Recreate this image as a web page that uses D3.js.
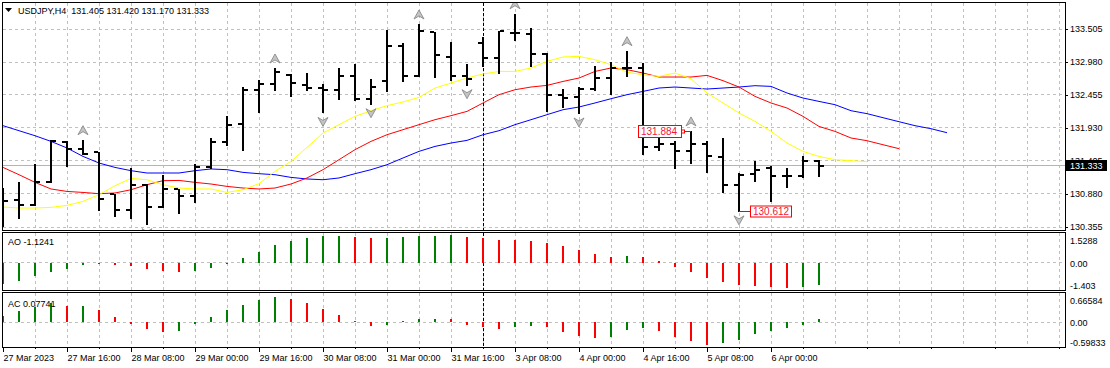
<!DOCTYPE html>
<html><head><meta charset="utf-8">
<script src="https://cdn.jsdelivr.net/npm/d3@7"></script>
<style>
html,body{margin:0;padding:0;background:#fff;}
svg{display:block;font-family:"Liberation Sans",Arial,sans-serif;}
</style></head><body>
<svg id="chart" width="1110" height="368"></svg>
<script>
// ---------------- DATA ----------------
const symbol = "USDJPY,H4";
const opens = [130.837,130.789,130.710,131.071,131.707,131.596,131.548,130.880,130.630,131.028,
  130.667,130.960,130.853,131.303,131.701,131.994,132.528,132.630,132.773,132.619,
  132.566,132.528,132.751,132.391,132.671,133.228,132.751,133.457,133.060,132.751,
  133.282,133.037,133.441,133.430,133.107,132.449,132.417,132.550,132.730,132.885,
  132.885,131.628,131.680,131.558,131.680,131.469,131.017,131.198,131.294,131.160,
  131.160,131.405];
const highs = [130.969,131.065,131.362,131.740,131.717,131.744,131.552,130.885,131.294,131.044,
  131.187,130.965,131.362,131.771,132.115,132.576,132.698,132.885,132.794,132.805,
  132.630,132.885,132.953,132.710,133.494,133.282,133.585,133.462,133.298,132.948,
  133.378,133.478,133.748,133.521,133.123,132.550,132.582,132.921,132.974,133.160,
  132.964,131.787,131.717,131.884,131.717,131.771,131.214,131.410,131.330,131.294,
  131.489,131.420];
const lows = [130.376,130.498,130.710,131.065,131.319,131.516,130.630,130.524,130.498,130.408,
  130.667,130.578,130.746,131.294,131.664,131.585,132.178,132.528,132.444,132.539,
  132.178,132.391,132.369,132.317,132.512,132.683,132.751,132.735,132.698,132.619,
  132.910,132.805,133.324,132.910,132.194,132.264,132.169,132.528,132.476,132.762,
  131.516,131.574,131.294,131.373,131.230,130.905,130.612,131.080,130.773,130.991,
  131.150,131.170];
const closes = [130.769,130.710,131.068,131.717,131.596,131.516,130.800,130.630,131.028,130.667,
  130.960,130.853,131.303,131.701,131.983,132.539,132.630,132.815,132.646,132.571,
  132.528,132.751,132.391,132.582,133.228,132.751,133.467,133.096,132.762,132.710,
  133.037,133.467,133.441,133.107,132.449,132.407,132.550,132.719,132.885,132.885,
  131.628,131.680,131.558,131.680,131.478,131.017,131.176,131.267,131.160,131.160,
  131.399,131.333];
// Alligator lines (shifted forward past the last bar)
const lips = [130.673,130.657,130.657,130.667,130.699,130.762,130.869,131.012,131.128,131.107,
  131.028,130.975,130.960,130.960,130.905,130.948,131.044,131.240,131.399,131.621,
  131.850,131.983,132.115,132.205,132.285,132.344,132.417,132.566,132.646,132.725,
  132.789,132.830,132.830,132.885,132.990,133.060,133.069,133.017,132.937,132.815,
  132.778,132.751,132.805,132.714,132.487,132.328,132.169,132.035,131.876,131.691,
  131.558,131.478,131.426,131.410,131.394];
const teeth = [131.303,131.187,131.065,130.960,130.921,130.905,130.885,130.896,130.948,131.028,
  131.092,131.096,131.065,131.039,131.001,130.975,130.960,130.975,131.039,131.135,
  131.267,131.426,131.585,131.717,131.823,131.903,131.983,132.062,132.126,132.194,
  132.328,132.460,132.539,132.582,132.608,132.671,132.725,132.830,132.885,132.858,
  132.805,132.741,132.741,132.741,132.767,132.683,132.582,132.433,132.328,132.248,
  132.115,131.955,131.876,131.771,131.728,131.664,131.601];
const jaw = [131.967,131.887,131.807,131.717,131.612,131.478,131.373,131.303,131.251,131.214,
  131.214,131.214,131.251,131.278,131.267,131.224,131.203,131.187,131.144,131.119,
  131.107,131.135,131.203,131.267,131.346,131.453,131.558,131.637,131.691,131.733,
  131.823,131.887,131.983,132.062,132.142,132.221,132.264,132.328,132.396,132.460,
  132.512,132.566,132.582,132.566,132.550,132.566,132.582,132.603,132.592,132.487,
  132.407,132.353,132.301,132.205,132.158,132.094,132.030,131.967,131.919,131.855];
const aoValues = [-1.095,-0.927,-0.674,-0.472,-0.320,-0.118,-0.067,-0.135,-0.185,-0.320,
  -0.421,-0.472,-0.421,-0.270,-0.034,0.219,0.556,0.876,1.078,1.264,
  1.340,1.350,1.281,1.230,1.240,1.281,1.331,1.340,1.382,1.281,
  1.230,1.146,1.129,1.078,0.977,0.826,0.623,0.421,0.270,0.320,
  0.270,0.067,-0.236,-0.489,-0.792,-0.994,-1.146,-1.160,-1.247,-1.297,
  -1.247,-1.1241];
const acValues = [0.147,0.263,0.356,0.441,0.375,0.380,0.286,0.124,-0.039,-0.155,
  -0.224,-0.201,-0.039,0.124,0.286,0.402,0.518,0.588,0.541,0.449,
  0.309,0.170,0.031,-0.077,-0.062,0.031,0.065,0.080,0.075,-0.062,
  -0.116,-0.155,-0.108,-0.085,-0.108,-0.224,-0.317,-0.363,-0.340,-0.178,
  -0.131,-0.201,-0.340,-0.433,-0.526,-0.480,-0.410,-0.271,-0.209,-0.131,
  -0.062,0.07741];
const priceTicks = [133.505,132.980,132.455,131.930,131.405,130.880,130.355];
const aoTicks = [1.5288,0,-1.403];
const aoTickLabels = ["1.5288","0.00","-1.403"];
const acTicks = [0.66584,0,-0.59833];
const acTickLabels = ["0.66584","0.00","-0.59833"];
const xLabels = ["27 Mar 2023","27 Mar 16:00","28 Mar 08:00","29 Mar 00:00","29 Mar 16:00",
  "30 Mar 08:00","31 Mar 00:00","31 Mar 16:00","3 Apr 08:00","4 Apr 00:00","4 Apr 16:00",
  "5 Apr 08:00","6 Apr 00:00"];
const fractalUp = [5,17,26,32,39,43];
const fractalDown = [9,20,23,29,36,46];
const weekSeparatorBar = 30;
const highMark = {bar:43, price:131.884};
const lowMark = {bar:46, price:130.612};

// ---------------- LAYOUT ----------------
const FONT = "Liberation Sans, Arial, sans-serif";
const FS = 9;
const left = 2.5, right = 1065.5;
const mainTop = 2.5, mainBot = 230.5;
const aoTop = 232.5, aoBot = 290.5;
const acTop = 292.5, acBot = 347.5;
const GREEN = "#008000", RED = "#ff0000", GRID = "#c0c0c0";

const svg = d3.select("#chart");
const x = d3.scaleLinear().domain([0, 66]).range([3, 1059]);
const yMain = d3.scaleLinear().domain([130.355, 133.505]).range([227, 29]);
const yAO = d3.scaleLinear().domain([-1.403, 1.5288]).range([290.5, 232.5]);
const yAC = d3.scaleLinear().domain([-0.59833, 0.66584]).range([348, 293.5]);
const last = closes.length - 1;

const defs = svg.append("defs");
function clip(id, y0, y1) {
  defs.append("clipPath").attr("id", id).append("rect")
    .attr("x", left + 0.5).attr("y", y0 + 0.5).attr("width", right - left - 1).attr("height", y1 - y0 - 1);
}
clip("cMain", mainTop, mainBot); clip("cAO", aoTop, aoBot); clip("cAC", acTop, acBot);

// ---------- grids ----------
const gridBars = d3.range(2, 67, 2);
function vGrid(y0, y1) {
  svg.append("g").selectAll("line").data(gridBars).join("line")
    .attr("x1", d => x(d) + 0.5).attr("x2", d => x(d) + 0.5)
    .attr("y1", y0).attr("y2", y1)
    .attr("stroke", GRID).attr("stroke-dasharray", "3,3").attr("shape-rendering", "crispEdges");
}
vGrid(mainTop, mainBot); vGrid(aoTop, aoBot); vGrid(acTop, acBot);
svg.append("g").selectAll("line").data(priceTicks).join("line")
  .attr("x1", left).attr("x2", right)
  .attr("y1", d => Math.floor(yMain(d)) + 0.5).attr("y2", d => Math.floor(yMain(d)) + 0.5)
  .attr("stroke", GRID).attr("stroke-dasharray", "3,3").attr("shape-rendering", "crispEdges");
[[yAO, aoTop], [yAC, acTop]].forEach(([s]) => {
  svg.append("line").attr("x1", left).attr("x2", right)
    .attr("y1", Math.floor(s(0)) + 0.5).attr("y2", Math.floor(s(0)) + 0.5)
    .attr("stroke", GRID).attr("stroke-dasharray", "3,3").attr("shape-rendering", "crispEdges");
});

// current price line
const cpY = Math.floor(yMain(closes[last])) + 0.5;
svg.append("line").attr("x1", left).attr("x2", right).attr("y1", cpY).attr("y2", cpY)
  .attr("stroke", "#b4b4b4").attr("shape-rendering", "crispEdges");

// week separator
[[mainTop, mainBot], [aoTop, aoBot], [acTop, acBot]].forEach(([a, b]) => {
  svg.append("line").attr("x1", x(weekSeparatorBar) + 0.5).attr("x2", x(weekSeparatorBar) + 0.5)
    .attr("y1", a).attr("y2", b).attr("stroke", "#000").attr("stroke-dasharray", "3,2")
    .attr("shape-rendering", "crispEdges");
});

// ---------- main panel ----------
const gMain = svg.append("g").attr("clip-path", "url(#cMain)");
const lineGen = s => d3.line().x((d, i) => x(i)).y(d => s(d));
[[jaw, "#0000ff"], [teeth, "#ff0000"], [lips, "#ffff00"]].forEach(([arr, col]) => {
  gMain.append("path").attr("d", lineGen(yMain)(arr)).attr("fill", "none")
    .attr("stroke", col).attr("stroke-width", 1);
});

const bars = d3.range(closes.length);
const gBars = gMain.append("g").attr("fill", "#000").attr("shape-rendering", "crispEdges");
bars.forEach(i => {
  const cx = Math.round(x(i));
  const yh = Math.round(yMain(highs[i])), yl = Math.round(yMain(lows[i]));
  gBars.append("rect").attr("x", cx - 1).attr("y", yh).attr("width", 2).attr("height", Math.max(2, yl - yh + 1));
  gBars.append("rect").attr("x", cx - 5).attr("y", Math.round(yMain(opens[i])) - 1).attr("width", 4).attr("height", 2);
  gBars.append("rect").attr("x", cx + 1).attr("y", Math.round(yMain(closes[i])) - 1).attr("width", 4).attr("height", 2);
});

// fractals
function arrow(cx, cy, up) {
  const s = up ? 1 : -1;
  return `M${cx},${cy - 5 * s} L${cx + 5},${cy + 4 * s} L${cx},${cy + 1 * s} L${cx - 5},${cy + 4 * s} Z`;
}
gMain.append("g").selectAll("path").data(fractalUp).join("path")
  .attr("d", d => arrow(x(d), yMain(highs[d]) - 9, true))
  .attr("fill", "#c4c4c4").attr("stroke", "#808080").attr("stroke-width", 0.8);
gMain.append("g").selectAll("path").data(fractalDown).join("path")
  .attr("d", d => arrow(x(d), yMain(lows[d]) + 9, false))
  .attr("fill", "#c4c4c4").attr("stroke", "#808080").attr("stroke-width", 0.8);

// high / low marks
(function () {
  const bx = Math.round(x(highMark.bar)), py = Math.round(yMain(highMark.price)) + 0.5;
  gMain.append("line").attr("x1", bx - 6).attr("x2", bx).attr("y1", py).attr("y2", py).attr("stroke", RED);
  gMain.append("rect").attr("x", bx - 9.5).attr("y", py - 1.5).attr("width", 3).attr("height", 3)
    .attr("fill", "#fff").attr("stroke", RED);
  gMain.append("rect").attr("x", bx - 52.5).attr("y", py - 6).attr("width", 43).attr("height", 12)
    .attr("fill", "#fff").attr("stroke", RED);
  gMain.append("text").attr("x", bx - 50).attr("y", py + 3.8).attr("fill", "#f0143c")
    .attr("font-size", 10).attr("font-family", FONT).text(highMark.price.toFixed(3));
  const lx = Math.round(x(lowMark.bar)), ly = Math.round(yMain(lowMark.price)) + 0.5;
  gMain.append("line").attr("x1", lx).attr("x2", lx + 11).attr("y1", ly).attr("y2", ly).attr("stroke", RED);
  gMain.append("rect").attr("x", lx + 11.5).attr("y", ly - 5.5).attr("width", 41).attr("height", 11)
    .attr("fill", "#fff").attr("stroke", RED);
  gMain.append("text").attr("x", lx + 14).attr("y", ly + 3.8).attr("fill", "#f0143c")
    .attr("font-size", 10).attr("font-family", FONT).text(lowMark.price.toFixed(3));
})();

// ---------- oscillators ----------
function histo(vals, scale, clipId) {
  const g = svg.append("g").attr("clip-path", `url(#${clipId})`).attr("shape-rendering", "crispEdges");
  const z = Math.round(scale(0));
  g.selectAll("rect").data(vals).join("rect")
    .attr("x", (d, i) => Math.round(x(i)) - 1).attr("width", 2)
    .attr("y", d => Math.min(z, Math.round(scale(d))))
    .attr("height", d => Math.max(1, Math.abs(Math.round(scale(d)) - z)))
    .attr("fill", (d, i) => (i === 0 || d > vals[i - 1]) ? GREEN : RED);
}
histo(aoValues, yAO, "cAO");
histo(acValues, yAC, "cAC");

// ---------- panel frames ----------
[[mainTop, mainBot], [aoTop, aoBot], [acTop, acBot]].forEach(([a, b]) => {
  svg.append("rect").attr("x", left).attr("y", a).attr("width", right - left).attr("height", b - a)
    .attr("fill", "none").attr("stroke", "#000").attr("shape-rendering", "crispEdges");
});

// ---------- axes ----------
function styleAxis(g) {
  g.attr("font-family", FONT).attr("font-size", FS);
  g.select(".domain").remove();
  g.selectAll("line").attr("stroke", "#000");
  g.selectAll("text").attr("fill", "#000");
}
svg.append("g").attr("transform", `translate(${right - 0.5},0)`)
  .call(d3.axisRight(yMain).tickValues(priceTicks).tickFormat(d3.format(".3f")).tickSize(3).tickPadding(2))
  .call(styleAxis);

function subAxis(scale, ticks, labels, top, bot) {
  const g = svg.append("g").attr("transform", `translate(${right - 0.5},0)`)
    .call(d3.axisRight(scale).tickValues(ticks).tickFormat((d, i) => labels[i]).tickSize(0).tickPadding(5))
    .call(styleAxis);
  g.selectAll(".tick text").attr("dy", null)
    .attr("y", (d, i) => i === 0 ? (top + 11) - scale(d) : i === 2 ? (bot - 2) - scale(d) : 3.3);
}
subAxis(yAO, aoTicks, aoTickLabels, aoTop, aoBot);
subAxis(yAC, acTicks, acTickLabels, acTop, acBot);

// current price box
svg.append("rect").attr("x", right + 0.5).attr("y", cpY - 5.5).attr("width", 41).attr("height", 11).attr("fill", "#000");
svg.append("text").attr("x", 1070).attr("y", cpY + 3.3).attr("fill", "#fff")
  .attr("font-size", FS).attr("font-family", FONT).text(closes[last].toFixed(3));

// bottom time axis
const labelBars = xLabels.map((d, i) => i * 4);
const gx = svg.append("g").attr("transform", `translate(0,${acBot - 0.5})`)
  .call(d3.axisBottom(x).tickValues(labelBars).tickFormat((d, i) => xLabels[i]).tickSize(5).tickPadding(3))
  .call(styleAxis);
gx.attr("text-anchor", "start");
svg.append("g").attr("transform", `translate(0,${acBot - 0.5})`)
  .call(d3.axisBottom(x).tickValues(d3.range(2, 67, 4)).tickFormat("").tickSize(2))
  .call(styleAxis);

// ---------- titles ----------
svg.append("path").attr("d", "M5,8 L12,8 L8.5,12 Z").attr("fill", "#000");
svg.append("text").attr("x", 18).attr("y", 14).attr("font-size", FS).attr("font-family", FONT)
  .attr("fill", "#000").style("white-space", "pre")
  .text(`${symbol}  ${opens[last].toFixed(3)} ${highs[last].toFixed(3)} ${lows[last].toFixed(3)} ${closes[last].toFixed(3)}`);
svg.append("text").attr("x", 8).attr("y", 245).attr("font-size", FS).attr("font-family", FONT)
  .attr("fill", "#000").text(`AO ${aoValues[last].toFixed(4)}`);
svg.append("text").attr("x", 8).attr("y", 306.5).attr("font-size", FS).attr("font-family", FONT)
  .attr("fill", "#000").text(`AC ${acValues[last].toFixed(5)}`);
</script>
</body></html>
